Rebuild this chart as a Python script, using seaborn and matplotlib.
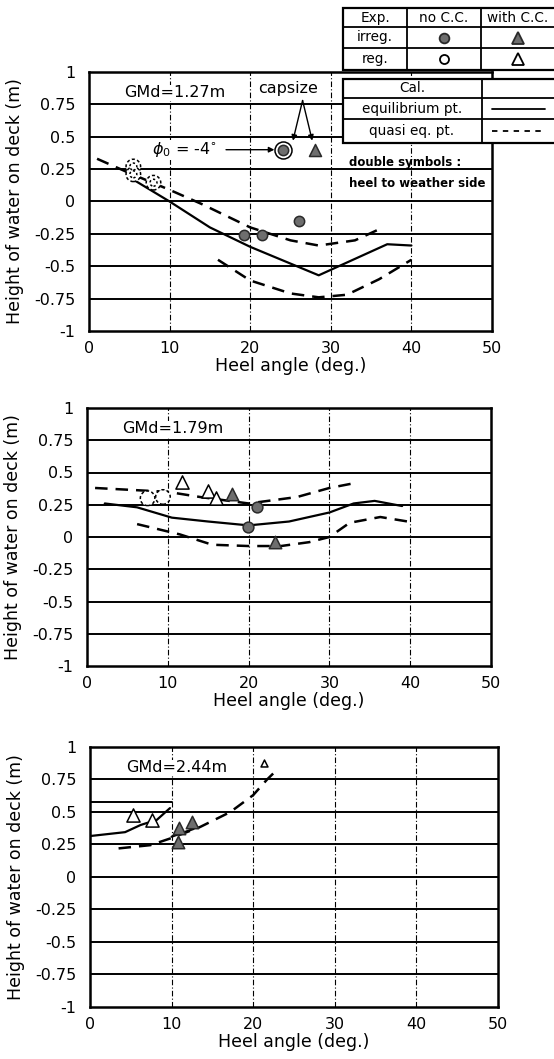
import matplotlib
matplotlib.use("Agg")
import matplotlib.pyplot as plt
import seaborn as sns
from matplotlib.patches import Rectangle
from matplotlib.lines import Line2D

# ---------------- data ----------------
x_ticks = [0, 10, 20, 30, 40, 50]
y_ticks = [-1, -0.75, -0.5, -0.25, 0, 0.25, 0.5, 0.75, 1]
y_tick_labels = ["-1", "-0.75", "-0.5", "-0.25", "0", "0.25", "0.5", "0.75", "1"]
panel_titles = ["GMd=1.27m", "GMd=1.79m", "GMd=2.44m"]
x_label = "Heel angle (deg.)"
y_label = "Height of water on deck (m)"

# Panel 1 : GMd = 1.27 m
p1_eq_x = [5.2, 10, 15, 20, 28.5, 37, 40]
p1_eq_y = [0.18, 0.0, -0.2, -0.35, -0.57, -0.33, -0.34]
p1_qu_x = [1.0, 5, 10, 14, 20, 25, 28.5, 33, 36.5]
p1_qu_y = [0.33, 0.22, 0.09, -0.02, -0.2, -0.3, -0.34, -0.3, -0.2]
p1_ql_x = [16, 20, 25, 28.5, 32, 36, 40]
p1_ql_y = [-0.45, -0.61, -0.71, -0.74, -0.72, -0.6, -0.45]
p1_irr_circ_x = [19.2, 21.5, 26.0, 24.1]
p1_irr_circ_y = [-0.26, -0.26, -0.15, 0.40]
p1_irr_tri_x = [28.1]
p1_irr_tri_y = [0.40]
p1_weather_x = [5.5, 5.5, 8.0]
p1_weather_y = [0.27, 0.21, 0.145]

# Panel 2 : GMd = 1.79 m
p2_eq_x = [2.2, 6.2, 10.5, 15, 20, 25, 30, 33, 35.6, 39]
p2_eq_y = [0.26, 0.23, 0.15, 0.12, 0.09, 0.12, 0.19, 0.26, 0.28, 0.24]
p2_qu_x = [1.0, 10, 14, 20, 26, 30, 33.3]
p2_qu_y = [0.38, 0.35, 0.31, 0.26, 0.31, 0.38, 0.42]
p2_ql_x = [6.2, 11.5, 15.5, 20, 24, 27.5, 30, 32.5, 36.3, 39.7]
p2_ql_y = [0.10, 0.02, -0.06, -0.07, -0.07, -0.04, 0.0, 0.11, 0.155, 0.12]
p2_irr_circ_x = [21.0, 19.9]
p2_irr_circ_y = [0.23, 0.08]
p2_irr_tri_x = [17.9, 23.3]
p2_irr_tri_y = [0.33, -0.04]
p2_reg_tri_x = [11.7, 15.0, 16.0]
p2_reg_tri_y = [0.43, 0.36, 0.30]
p2_weather_x = [7.5, 9.4]
p2_weather_y = [0.30, 0.31]

# Panel 3 : GMd = 2.44 m
p3_eq_x = [0, 4.3, 6.2, 8.2, 9.8]
p3_eq_y = [0.315, 0.345, 0.40, 0.44, 0.53]
p3_eq2_x = [10, 12.7]
p3_eq2_y = [0.31, 0.37]
p3_top_x = [0, 10]
p3_top_y = [0.575, 0.575]
p3_qu_x = [3.5, 7.4, 10, 13.5, 17.2, 20, 21.7, 23]
p3_qu_y = [0.22, 0.245, 0.30, 0.385, 0.50, 0.63, 0.75, 0.83]
p3_irr_tri_x = [10.9, 10.8, 12.5]
p3_irr_tri_y = [0.38, 0.27, 0.42]
p3_reg_tri_x = [5.3, 7.6]
p3_reg_tri_y = [0.48, 0.44]
p3_small_tri_x = [21.3]
p3_small_tri_y = [0.875]

# ---------------- style ----------------
sns.set_style("white")
plt.rcParams['font.family'] = ['DejaVu Sans']
plt.rcParams.update({"text.color": "black", "axes.labelcolor": "black",
                     "xtick.color": "black", "ytick.color": "black"})
W, H = 554, 1059
fig = plt.figure(figsize=(W / 100, H / 100), dpi=100)

GREY = "#6e6e6e"
EDGE = "#2a2a2a"
DASH = (0, (5, 3.2))


def fig_rect(l, t, r, b):
    return [l / W, 1 - b / H, (r - l) / W, (b - t) / H]


axes_px = [(89, 72, 492, 331), (87, 408, 491, 666), (90, 747, 498, 1007)]
axes = [fig.add_axes(fig_rect(*p)) for p in axes_px]


def style_axis(ax, title):
    ax.set_xlim(0, 50)
    ax.set_ylim(-1, 1)
    ax.set_xticks(x_ticks)
    ax.set_yticks(y_ticks)
    ax.set_yticklabels(y_tick_labels)
    ax.tick_params(axis="both", length=0, labelsize=11.5, colors="black")
    ax.tick_params(axis="x", pad=7)
    ax.tick_params(axis="y", pad=10)
    for t in y_ticks[1:-1]:
        ax.axhline(t, color="black", lw=1.4, zorder=1)
    for t in x_ticks[1:-1]:
        ax.axvline(t, color="black", lw=0.8, ls=(0, (5, 2, 1, 2)), zorder=1)
    for s in ax.spines.values():
        s.set_visible(True)
        s.set_color("black")
        s.set_linewidth(1.8)
    ax.set_xlabel(x_label, fontsize=12.5, labelpad=1, color="black")
    ax.set_ylabel(y_label, fontsize=12.5, labelpad=7, color="black")
    ax.text(10.6, 0.84, title, fontsize=11.5, ha="center", va="center", zorder=4,
            color="black", bbox=dict(facecolor="white", edgecolor="none", pad=0.5))


def line(ax, x, y, dashed=False, lw=1.6):
    kw = dict(color="black", lw=lw, sort=False, estimator=None, zorder=3)
    if dashed:
        kw["linestyle"] = DASH
        kw["lw"] = 1.8
    sns.lineplot(x=x, y=y, ax=ax, **kw)


def pts(ax, x, y, marker, filled, s, ls="-"):
    sns.scatterplot(x=x, y=y, ax=ax, marker=marker, s=s,
                    color=GREY if filled else "white",
                    edgecolor=EDGE if filled else "black",
                    linewidth=1.1, linestyle=ls, zorder=5, legend=False)


# Panel 1
ax = axes[0]
style_axis(ax, panel_titles[0])
line(ax, p1_eq_x, p1_eq_y)
line(ax, p1_qu_x, p1_qu_y, dashed=True)
line(ax, p1_ql_x, p1_ql_y, dashed=True)
pts(ax, p1_weather_x, p1_weather_y, "o", False, 110, ls=(0, (2, 1.5)))
pts(ax, p1_weather_x, p1_weather_y, "o", False, 25, ls=(0, (1.5, 1.5)))
pts(ax, p1_irr_circ_x[-1:], p1_irr_circ_y[-1:], "o", False, 150)
pts(ax, p1_irr_circ_x, p1_irr_circ_y, "o", True, 55)
pts(ax, p1_irr_tri_x, p1_irr_tri_y, "^", True, 75)
ax.text(24.7, 0.87, "capsize", fontsize=11.5, ha="center", va="center", zorder=4,
        bbox=dict(facecolor="white", edgecolor="none", pad=0.5))
for tx in (p1_irr_circ_x[-1] + 1.2, p1_irr_tri_x[0] - 0.4):
    ax.annotate("", xy=(tx, 0.47), xytext=(26.5, 0.78),
                arrowprops=dict(arrowstyle="-|>", color="black", lw=1.0,
                                mutation_scale=8, shrinkA=0, shrinkB=0), zorder=6)
ax.text(11.9, 0.40, r"$\phi_0$ = -4$^{\circ}$", fontsize=11.5, ha="center",
        va="center", zorder=4, bbox=dict(facecolor="white", edgecolor="none", pad=0.3))
ax.annotate("", xy=(23.0, 0.40), xytext=(17.0, 0.40),
            arrowprops=dict(arrowstyle="-|>", color="black", lw=1.0,
                            mutation_scale=8, shrinkA=0, shrinkB=0), zorder=6)
ax.text(32.2, 0.30, "double symbols :", fontsize=8.5, fontweight="bold",
        ha="left", va="center", zorder=4)
ax.text(32.2, 0.14, "heel to weather side", fontsize=8.5, fontweight="bold",
        ha="left", va="center", zorder=4)

# Panel 2
ax = axes[1]
style_axis(ax, panel_titles[1])
line(ax, p2_eq_x, p2_eq_y)
line(ax, p2_qu_x, p2_qu_y, dashed=True)
line(ax, p2_ql_x, p2_ql_y, dashed=True)
pts(ax, p2_weather_x, p2_weather_y, "o", False, 110, ls=(0, (2, 1.5)))
pts(ax, p2_reg_tri_x, p2_reg_tri_y, "^", False, 90)
pts(ax, p2_irr_tri_x, p2_irr_tri_y, "^", True, 80)
pts(ax, p2_irr_circ_x, p2_irr_circ_y, "o", True, 60)

# Panel 3
ax = axes[2]
style_axis(ax, panel_titles[2])
line(ax, p3_top_x, p3_top_y, lw=1.4)
line(ax, p3_eq_x, p3_eq_y)
line(ax, p3_eq2_x, p3_eq2_y)
line(ax, p3_qu_x, p3_qu_y, dashed=True)
pts(ax, p3_reg_tri_x, p3_reg_tri_y, "^", False, 90)
pts(ax, p3_irr_tri_x, p3_irr_tri_y, "^", True, 80)
pts(ax, p3_small_tri_x, p3_small_tri_y, "^", False, 25)

# ---------------- legend tables (figure level) ----------------
def fx(px):
    return px / W


def fy(py):
    return 1 - py / H


def table(cols, rows):
    l, r, t, b = cols[0], cols[-1], rows[0], rows[-1]
    fig.add_artist(Rectangle((fx(l), fy(b)), fx(r) - fx(l), fy(t) - fy(b),
                             transform=fig.transFigure, facecolor="white",
                             edgecolor="black", lw=1.6, zorder=10))
    for c in cols[1:-1]:
        fig.add_artist(Line2D([fx(c), fx(c)], [fy(t), fy(b)], color="black",
                              lw=1.3, transform=fig.transFigure, zorder=11))
    for rr in rows[1:-1]:
        fig.add_artist(Line2D([fx(l), fx(r)], [fy(rr), fy(rr)], color="black",
                              lw=1.3, transform=fig.transFigure, zorder=11))


def ftext(px, py, s):
    fig.text(fx(px), fy(py), s, fontsize=9.8, ha="center", va="center",
             color="black", zorder=12)


exp_cols = [343, 407, 481, 557]
exp_rows = [8, 27, 48, 70]
table(exp_cols, exp_rows)
ftext(375, 18, "Exp.")
ftext(444, 18, "no C.C.")
ftext(518, 18, "with C.C.")
ftext(375, 37.5, "irreg.")
ftext(375, 59, "reg.")
for (cx, cy, mk, filled, ms) in [(444, 37.5, "o", True, 7), (518, 37.5, "^", True, 8.5),
                                  (444, 59, "o", False, 6.5), (518, 59, "^", False, 8.5)]:
    fig.add_artist(Line2D([fx(cx)], [fy(cy)], marker=mk, ms=ms, ls="none",
                          mfc=GREY if filled else "white",
                          mec=EDGE if filled else "black", mew=1.3,
                          transform=fig.transFigure, zorder=12))

cal_cols = [343, 482, 557]
cal_rows = [79, 98, 119, 143]
table(cal_cols, cal_rows)
ftext(412, 88.5, "Cal.")
ftext(412, 108.5, "equilibrium pt.")
ftext(412, 131, "quasi eq. pt.")
fig.add_artist(Line2D([fx(492), fx(545)], [fy(108.5), fy(108.5)], color="black",
                      lw=1.3, transform=fig.transFigure, zorder=12))
fig.add_artist(Line2D([fx(492), fx(545)], [fy(131), fy(131)], color="black",
                      lw=1.3, ls=(0, (3, 3)), transform=fig.transFigure, zorder=12))

fig.savefig("out.png", dpi=100)
